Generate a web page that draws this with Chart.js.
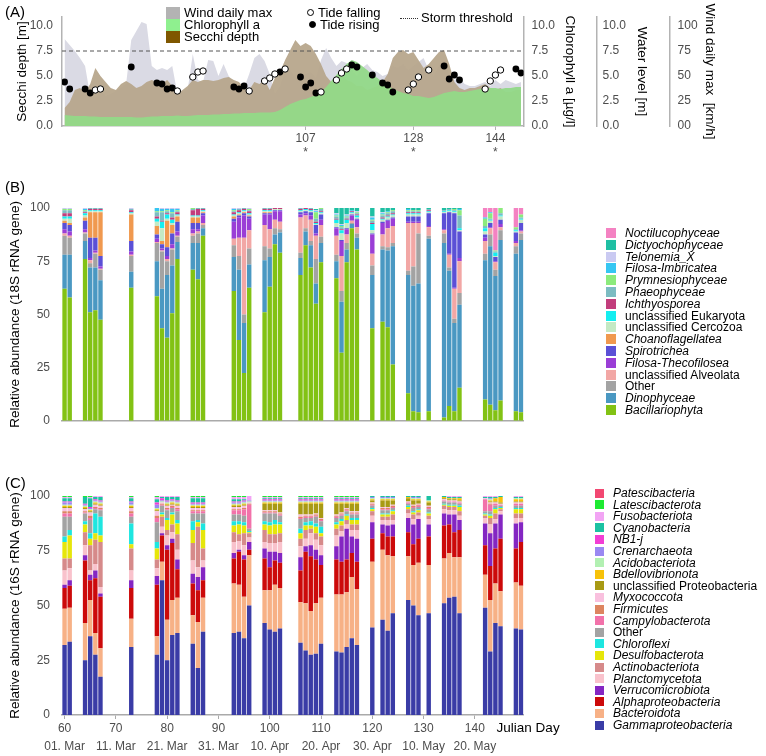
<!DOCTYPE html>
<html>
<head>
<meta charset="utf-8">
<script src="https://cdn.jsdelivr.net/npm/chart.js@4.4.1/dist/chart.umd.min.js"></script>
<style>
body { margin: 0; background: #fff; font-family: "Liberation Sans", Arial, Helvetica, sans-serif; }
#page { position: relative; width: 766px; height: 756px; overflow: hidden; }
canvas { position: absolute; left: 0; }
.panel { position: absolute; left: 5px; font-size: 15px; color: #000; line-height: 18px; }
.lg { position: absolute; font-size: 13px; line-height: 14px; color: #000; white-space: nowrap; }
.lgs { font-size: 12px; }
.sw { position: absolute; }
.dot { position: absolute; width: 5px; height: 5px; border: 1px solid #000; border-radius: 50%; }
</style>
</head>
<body>
<div id="page">
  <canvas id="envChart" width="766" height="165" style="top:0px"></canvas>
  <canvas id="eukChart" width="766" height="260" style="top:180px"></canvas>
  <canvas id="bacChart" width="766" height="286" style="top:470px"></canvas>
  <div class="panel" style="top:3px">(A)</div>
  <div class="panel" style="top:178px">(B)</div>
  <div class="panel" style="top:474px">(C)</div>

  <div class="sw" style="left:166px;top:7px;width:14px;height:12px;background:#b3b3b3"></div>
  <div class="sw" style="left:166px;top:19px;width:14px;height:12px;background:#8ff08f"></div>
  <div class="sw" style="left:166px;top:31px;width:14px;height:12px;background:#7f5700"></div>
  <div class="lg" style="left:184px;top:6px">Wind daily max</div>
  <div class="lg" style="left:184px;top:18px">Chlorophyll a</div>
  <div class="lg" style="left:184px;top:30px">Secchi depth</div>
  <div class="dot" style="left:307px;top:9px;background:#fff"></div>
  <div class="dot" style="left:309px;top:21px;background:#000"></div>
  <div class="lg" style="left:318px;top:6px">Tide falling</div>
  <div class="lg" style="left:320px;top:18px">Tide rising</div>
  <div class="sw" style="left:400px;top:18px;width:18px;height:0;border-top:1px dotted #333"></div>
  <div class="lg" style="left:421px;top:11px">Storm threshold</div>
  <div id="eukLegend"></div>
  <div id="bacLegend"></div>
</div>
<script>
Chart.defaults.font.family = '"Liberation Sans", Arial, Helvetica, sans-serif';
Chart.defaults.color = '#4d4d4d';
Chart.defaults.animation = false;

// ---------- panel A: environment, daily values day 60..149 ----------
const windDaily = [87,81,75,68,60,30,28,35,30,32, 35,38,42,86,95,104,102,60,56,58,
    56,60,32,34,36,72,46,44,66,65, 50,62,50,44,40,38,52,68,72,65,
    52,32,40,54,56,48,50,52,54,48, 66,78,68,60,65,63,56,50,58,62,
    56,54,50,52,60,58,62,56,60,64, 68,56,50,60,66,52,46,48,42,40,
    40,42,44,40,46,42,46,44,42,44];
const secchiDepth = [1.8,2.4,3.6,3.8,3.4,4.2,5.8,5.0,4.4,3.8, 3.6,4.2,4.5,4.2,3.8,4.0,4.4,4.6,4.4,4.2,
    4.6,4.0,3.2,3.6,4.0,4.6,4.4,4.6,4.6,4.5, 4.6,4.8,4.9,4.6,4.4,3.8,3.6,4.4,4.2,4.6,
    3.6,4.8,5.4,6.6,7.6,8.6,8.0,8.3,8.0,7.2, 6.2,5.0,4.4,4.8,5.0,4.6,4.4,4.0,4.0,3.6,
    3.8,4.0,4.4,5.2,6.8,7.4,7.6,7.2,7.4,6.6, 5.8,6.2,6.8,7.4,7.6,6.2,4.4,3.8,3.6,3.8,
    3.8,4.0,4.2,3.8,3.6,3.8,3.4,3.4,3.6,3.6];
const chlorophyll = [1.1,1.05,1.0,1.0,1.0,0.95,0.95,0.9,0.9,0.9, 0.9,0.9,0.9,0.9,0.85,0.85,0.9,0.95,0.95,1.0,
    1.0,1.0,1.05,1.0,1.0,1.05,1.1,1.1,1.1,1.15, 1.15,1.2,1.2,1.25,1.25,1.3,1.3,1.3,1.35,1.35,
    1.35,1.4,1.6,1.9,2.2,2.4,2.6,2.7,2.9,3.1, 3.4,3.9,4.5,5.1,5.7,6.2,6.6,6.4,6.0,5.6,
    5.1,4.8,4.4,4.0,3.7,3.5,3.3,3.2,3.0,3.0, 2.9,2.8,2.9,3.1,3.3,3.4,3.5,3.4,3.4,3.5,
    3.6,3.7,3.8,3.8,3.8,3.7,3.8,3.8,3.9,3.9];
const tideFallingDays = [66,67,82,85,86,87,96,99,100,101,103,110,113,114,115,127,128,129,131,142,143,144,145];
const tideFallingLevel = [3.6,3.7,3.5,4.9,5.4,5.5,3.5,4.5,4.8,5.2,5.7,3.4,4.6,5.3,5.7,3.6,4.2,4.9,5.6,3.7,4.5,5.1,5.6];
const tideRisingDays = [60,61,64,65,73,78,79,80,81,93,94,95,102,106,107,108,109,116,117,120,122,123,124,134,135,136,137,148,149];
const tideRisingLevel = [4.4,3.7,3.7,3.3,5.9,4.3,4.2,3.7,3.8,3.9,3.7,4.0,5.4,4.9,3.9,4.3,3.3,6.1,5.9,5.1,4.3,4.1,3.4,6.0,4.7,5.1,4.6,5.7,5.3];
const stormThreshold = 75;
const markedDays = [107, 128, 144];

// ---------- sampling days for the community bars ----------
const sampleDays = [60,61,64,65,66,67,73,78,79,80,81,82,85,86,87,93,94,95,96,99,100,101,102,
    106,107,108,109,110,113,114,115,116,117,120,122,123,124,127,128,129,131,134,135,136,137,
    142,143,144,145,148,149];
const tickDays = [60,70,80,90,100,110,120,130,140];
const tickDates = ['01. Mar','11. Mar','21. Mar','31. Mar','10. Apr','20. Apr','30. Apr','10. May','20. May'];

// ---------- panel B: 18S rRNA (bottom to top) ----------
const bacillariophyta = [62,58,76,51,52,47.5,62.5,58.5,43.5,39, 50.5,76,71,66.5,87,61,38,22.5,62.5,51,
    63,83,79,68.5,82.5,72,55,74.5,67,32, 74.5,90.5,80.5,43.5,46.5,44,26.5,13,4.5,4, 4.5,1.5,7,4.5,15.5,10,7.5,5,9.5,4.5,4];
const dinophyceae = [16,20,8.5,21,20,18.5,7.5,16.5,18.5,29.5, 22.5,8,12.5,17,3.5,16,33,23.5,11,24.5,
    14,4.5,9.5,8,6.5,10.5,9.5,9,8,24, 6,2,5.5,25,34,36,55.5,55.5,59,60.5, 81,82,63.5,41.5,39,65.5,74.5,63,75.5,74,81];
const otherEuk = [9,8,3.5,2,6.5,5,7.5,8.5,17.5,6.5, 7.5,2.5,3.5,4.5,1.5,5.5,6.5,4,7.5,6.5,
    4,3,1.5,2.5,1.5,2,11.5,3,3,5, 3,0.5,2,4.5,1.5,1.5,1.5,2,9,23.5, 1.5,4.5,1.5,2,5.5,3,5.5,3,4.5,3.5,3];
const unclAlveolata = [1,1,0.5,1.5,0.5,0.5,0.5,0.5,0.5,1, 0.5,0.5,1,1,1,3,8.5,36,8.5,10,
    9,4,3.5,16.5,6,10,11,5.5,9,16.5, 4,1,3,5.5,5.5,9,8,22.5,20.5,5, 4,1.5,6,14,15,6,3,3.5,1.5,1.5,1];
const filosaThecofilosea = [2,2,1.5,1,1,1,1.5,1.5,1,1.5, 2,2,2,1,3.5,8,9.5,10.5,5.5,5,
    7,4,5,1.5,1,2,1,2.5,3.5,7, 2.5,2.5,3.5,9,5.5,3.5,3.5,0.5,0.5,0.5, 0.5,0.5,0.5,0.5,1.5,1.5,0.5,0.5,1.5,1,0.5];
const spirotrichea = [3,3,4,9.5,6,5,5,2,2,4, 5,4.5,3,3,1,1.5,1,1,1,0.5,
    0.5,0.5,0.5,1,1,1.5,4,2.5,0.5,0.5, 0.5,0.5,0.5,0.5,0.5,0.5,0.5,2.5,2.5,2.5, 6,7.5,19.5,35,12.5,1.5,2,2,2,4,3.5];
const choanoflagellatea = [1,1,1.5,12,12,20.5,12.5,4,1.5,12.5, 4,2.5,2.5,2.5,0.5,1,0.5,0.5,0.5,0.5,
    0.5,0,0,0,0,0,0,0,0,0, 0,0,0,0,0,0,0,0,0,0, 0,0,0,0,0,0,0,0,0,0,0];
const unclCercozoa = [1,2,1,0.5,0.5,0.5,0.5,2,6,1, 1,0.5,0.5,0.5,0.5,0.5,0.5,0.5,0.5,0.5,
    0.5,0.5,0.5,0.5,0.5,0.5,0.5,0.5,2,3, 2.5,0.5,0.5,1.5,1,1,1,1,1,1, 0.5,0.5,0.5,0.5,0.5,1.5,1,0.5,1.5,0.5,1.5];
const unclEukaryota = [1,1,1,0.5,0.5,0.5,0.5,1.5,3,2, 1.5,0.5,0.5,0.5,0.5,0.5,0.5,0.5,0.5,0.5,
    0.5,0,0,0.5,0.5,0.5,0.5,0.5,1.5,1.5, 1.5,0.5,1,3,0.5,0.5,0.5,0.5,0.5,0.5, 0.5,0.5,0.5,0.5,1,1.5,0.5,1.5,0.5,0.5,0.5];
const ichthyosporea = [1.5,1.5,0.5,0.5,0.5,0.5,1,1,0.5,0.5, 1,1,2.5,3,0.5,1,1,0.5,1,0.5,
    0.5,0.5,0.5,0.5,0.5,0.5,0.5,0.5,0.5,0.5, 0.5,0.5,0.5,0.5,0.5,0.5,0.5,0.5,0.5,0.5, 0.5,0,0,0,0,0,0,0,0,0,0];
const phaeophyceae = [1.5,1.5,0.5,0.5,0.5,0.5,0.5,2,4,1, 2,0.5,0.5,0.5,0.5,0.5,0.5,0.5,0.5,0.5,
    0.5,0,0,0.5,0,0.5,1.5,1,1,1, 0.5,0,0.5,1,1,1,1,0.5,0.5,0.5, 0.5,0.5,0.5,0.5,6,1,0.5,0.5,1,0.5,0.5];
const prymnesiophyceae = [0.5,0.5,0.5,0,0,0,0,0.5,0.5,0.5, 0.5,0.5,0.5,0,0,0.5,0,0,0.5,0,
    0,0,0,0,0,0,3,0.5,0.5,0.5, 0.5,0,0.5,0.5,0.5,0.5,0.5,0.5,0.5,0.5, 0,0,0,0.5,2.5,3.5,2.5,0.5,2.5,1,1.5];
const filosaImbricatea = [0,0,0.5,0,0,0,0,1.5,1,0.5, 1.5,0.5,0,0,0,0.5,0,0,0,0,
    0,0,0,0,0,0,0.5,0,0.5,0.5, 0.5,0.5,0,1,0.5,0.5,0,0.5,0,0, 0,0,0,0,0.5,0.5,0.5,0,0,0,0];
const telonemia = [0.5,0.5,0.5,0,0,0,0.5,0,0.5,0.5, 0.5,0.5,0,0,0,0.5,0.5,0,0.5,0,
    0,0,0,0,0,0,0.5,0,0.5,0.5, 0.5,0,0.5,0.5,0.5,0,0,0,0,0, 0,0,0,0,0,0,0,0,0,0,0];
const dictyochophyceae = [0,0,0,0,0,0,0,0,0,0, 0,0,0,0,0,0,0,0,0,0,
    0,0,0,0,0,0,0.5,0,2.5,7.5, 3,1,1.5,4,2,1.5,1,1,1,1, 0.5,1,0.5,0.5,0.5,0,0,0,0,0,0];
const noctilucophyceae = [0,0,0,0,0,0,0,0,0,0, 0,0,0,0,0,0,0,0,0,0,
    0,0,0,0,0,0,0,0,0,0, 0,0,0,0,0,0,0,0,0,0, 0,0,0,0,0,4.5,2,20,0,9,3];

const eukNames = ['Bacillariophyta','Dinophyceae','Other','unclassified Alveolata','Filosa-Thecofilosea',
    'Spirotrichea','Choanoflagellatea','unclassified Cercozoa','unclassified Eukaryota','Ichthyosporea',
    'Phaeophyceae','Prymnesiophyceae','Filosa-Imbricatea','Telonemia_X','Dictyochophyceae','Noctilucophyceae'];
const eukValues = [bacillariophyta, dinophyceae, otherEuk, unclAlveolata, filosaThecofilosea, spirotrichea,
    choanoflagellatea, unclCercozoa, unclEukaryota, ichthyosporea, phaeophyceae, prymnesiophyceae,
    filosaImbricatea, telonemia, dictyochophyceae, noctilucophyceae];
const eukColors = ['#82c214','#4a98c2','#a3a3a3','#f2a7a5','#9a3ed6','#5b50d6','#f0994f','#c4e9c4',
    '#14eef0','#c23d7c','#7cbcc2','#8ceb7c','#36c6f2','#cacaf2','#1fbfa3','#f482c2'];

// ---------- panel C: 16S rRNA (bottom to top) ----------
const gammaproteobacteria = [32,33.5,25,36,27.5,17.5,31,27.5,61.5,25, 36.5,37.5,32.5,21.5,38,37.5,38,35,50,42,
    39,38,39.5,33,29.5,27.5,28,32.5,29,28.5, 31,35,32,40,43.5,38.5,46.5,52.5,50,45.5, 46.5,51,53.5,54,46.5,49,29,42,40.5,39.5,39];
const bacteroidota = [16.5,15.5,17,16.5,10,13,13,8.5,8.5,18.5, 16,16,13,21,15.5,22.5,21.5,19,23,15,
    18,21.5,18.5,18.5,21.5,20,23,21,26,26.5, 25,28,25.5,30,32,34.5,26,20,18.5,24, 22,20.5,20.5,18,25.5,15,23.5,18,16,21,20];
const alphaproteobacteria = [9.5,10,28.5,9,25,23.5,14,23.5,12,32, 26,13,14.5,14.5,8,11.5,15,17,2.5,14.5,
    10.5,11,11.5,14.5,23.5,25,20,15,16,15, 15,11,12.5,10.5,7.5,8.5,9,11,9.5,11, 13,15,13,11.5,12.5,13.5,15.5,16,24,15.5,20];
const verrucomicrobiota = [1.5,2.5,2.5,2.5,3.5,1.5,3.5,4,1,2, 2,4.5,4.5,6,6,2.5,1,2,3.5,4.5,
    7,4,4.5,6,2.5,5,4.5,4.5,6,11.5, 14,7.5,10.5,7.5,4,5,5.5,6.5,9,9, 5.5,5.5,4.5,8,4.5,10,15,11.5,11,11.5,9];
const planctomycetota = [6.5,5.5,4.5,2,3,3,4.5,3.5,3,4.5, 3,4.5,6,4.5,3,5,4,4.5,2,3,
    4,4,5,5,3.5,5.5,4.5,4.5,5,2.5, 2,3,4,3,2,2.5,2,2,2.5,1.5, 2.5,2,2,2,2,2.5,4,2,1.5,2.5,2];
const actinobacteriota = [5.5,4.5,6,11.5,11,20.5,10,4,4.5,2.5, 3.5,7,8,18.5,5.5,4.5,3,5.5,2,5.5,
    4,4,4,3.5,4,2,3,4,3,2.5, 2,2.5,2.5,2,1.5,1.5,2.5,2,2,1.5, 1.5,1.5,1.5,1.5,2,1,3,2.5,1,2,2];
const desulfobacterota = [7.5,10.5,3.5,3,3,3,2,5,1,4.5, 4.5,5,6,2,8.5,3,4.5,3.5,0.5,2.5,
    4,4.5,4,2.5,2,1.5,3,1.5,2,2, 2,2,2,1,1,1,1.5,1,1,1, 1,0.5,0.5,0.5,2,0.5,1,2,0.5,2,2];
const chloroflexi = [2.5,2.5,1.5,2.5,9,8.5,9.5,3,1,1, 1,1.5,4,1,3,2,1.5,1.5,0.5,1.5,
    1.5,2,1,2,1.5,2,1.5,3,1,1, 0.5,1,1,0.5,0.5,0.5,0.5,0.5,0.5,0.5, 0.5,0.5,0.5,0.5,0.5,0.5,0.5,0.5,0.5,0.5,0.5];
const otherBac = [9,6,3.5,6,2,3,3,9,3,3.5, 2,4,3.5,3,4.5,3,3,3,1,3.5,
    4,3,3,4.5,2,1.5,3,2.5,2,1.5, 1.5,1.5,1.5,1,1.5,1.5,1,1,1.5,1, 1.5,1,1,1,1,1,1.5,1,0.5,1,1];
const campylobacterota = [1.5,1.5,0.5,1,0.5,0.5,1.5,2,0.5,0.5, 0.5,1,1,1,1,2,2,3,11,0.5,
    0.5,0.5,0.5,0.5,0.5,0.5,0.5,0.5,0.5,0.5, 0.5,0.5,0.5,0.5,0.5,0.5,0.5,0.5,0.5,0.5, 0.5,0.5,0.5,0.5,0.5,5.5,3,1,0.5,1,1];
const firmicutes = [1,1,0.5,1,0.5,0.5,1,1,0.5,0.5, 0.5,0.5,0.5,0.5,0.5,0.5,0.5,0.5,0.5,0.5,
    0.5,0.5,0.5,0.5,0.5,0.5,0.5,0.5,0.5,0.5, 0.5,0.5,0.5,0.5,0.5,0.5,0.5,0,0.5,0.5, 0.5,0,0,0,0,0,0.5,0,0,0,0];
const myxococcota = [1.5,1.5,1,1.5,1,1,1.5,2,0.5,1, 0.5,1,1,1,1,1,1,1,0.5,0.5,
    0.5,0.5,0.5,1,0.5,0.5,0.5,0.5,0.5,0.5, 0.5,0.5,0.5,0.5,0.5,0.5,0.5,0.5,0.5,0.5, 0.5,0.5,0.5,0.5,0.5,0.5,0.5,0.5,0.5,0.5,0.5];
const unclProteobacteria = [0.5,0.5,0.5,0.5,0.5,0.5,0.5,0.5,0,0.5, 0.5,0.5,0.5,0.5,0.5,0.5,0.5,0.5,0,3,
    3,3,4,5,5,5,4.5,6.5,5,4, 2,3.5,3.5,1,3,3,2,1.5,2,1.5, 1.5,0.5,0.5,0.5,0.5,0,0.5,0.5,0.5,0.5,0.5];
const bdellovibrionota = [0.5,0.5,0.5,0.5,0.5,0.5,0.5,0.5,0,0.5, 0.5,0.5,0.5,0.5,0.5,0.5,0.5,0.5,0,0.5,
    0.5,0.5,0.5,0.5,0.5,0.5,0.5,0.5,0.5,0.5, 0.5,0.5,0.5,0.5,0.5,0.5,0.5,0.5,0.5,0.5, 0.5,0.5,0.5,0.5,1,0,0.5,1.5,2.5,1,1];
const acidobacteriota = [0.5,0.5,0.5,0.5,0.5,0.5,0.5,0.5,0.5,0.5, 0.5,0.5,0.5,0.5,0.5,0.5,0.5,0.5,0.5,0.5,
    0.5,0.5,0.5,0.5,0.5,0.5,0.5,0.5,0.5,0.5, 0.5,0.5,0.5,0.5,0.5,0.5,0.5,0,0.5,0.5, 0.5,0,0,0,0,0,0.5,0,0,0.5,0.5];
const crenarchaeota = [1,1,0.5,0.5,0.5,0.5,1,1.5,0.5,0.5, 0.5,0.5,0.5,0.5,0.5,0.5,0.5,0.5,0.5,0.5,
    0.5,0.5,0.5,0.5,0.5,0.5,0.5,0.5,0.5,0.5, 0.5,0.5,0.5,0.5,0.5,0.5,0.5,0,0.5,0.5, 0,0,0,0,0,0,0.5,0,0,0,0];
const nb1j = [0.5,0.5,0.5,0.5,0.5,0.5,0.5,1,1,0.5, 0.5,0.5,0.5,0.5,0.5,0.5,0.5,0.5,0,0.5,
    0.5,0.5,0.5,0.5,0.5,0.5,0.5,0.5,0.5,0.5, 0.5,0.5,0.5,0,0,0,0,0,0,0, 0,0,0,0,0,0,0,0,0,0,0];
const cyanobacteria = [1.5,1.5,3,4,1,1.5,1.5,1.5,0.5,1.5, 1,1.5,2,2,2,1,1,0.5,0,0.5,
    0.5,0.5,0.5,0.5,0.5,0.5,0.5,0.5,0.5,0.5, 0.5,0.5,0.5,0.5,0.5,0.5,0.5,0.5,0.5,0.5, 2,0.5,0.5,0.5,0.5,0.5,0.5,0.5,0.5,0.5,0.5];
const fusobacteriota = [0.5,0.5,0,0.5,0.5,0.5,0.5,1,0.5,0.5, 0.5,0.5,0.5,0.5,0.5,1,1,1,2,0.5,
    0.5,0.5,0.5,0.5,0.5,0.5,0.5,0.5,0.5,0.5, 0.5,0.5,0.5,0,0,0,0,0,0,0, 0,0,0.5,0.5,0.5,0.5,0.5,0.5,0,0.5,0.5];
const latescibacterota = [0.5,0.5,0.5,0.5,0,0,0.5,0.5,0,0, 0,0,0.5,0.5,0.5,0.5,0.5,0.5,0,0.5,
    0.5,0.5,0.5,0.5,0.5,0.5,0.5,0.5,0.5,0.5, 0.5,0.5,0.5,0,0,0,0,0,0,0, 0,0,0,0,0,0,0,0,0,0,0];
const patescibacteria = [0,0,0,0,0,0,0,0.5,0,0, 0,0,0,0,0,0,0,0,0,0,
    0,0,0,0,0,0,0,0,0,0, 0,0,0,0,0,0,0,0,0,0, 0,0,0,0,0,0,0,0,0,0,0];

const bacNames = ['Gammaproteobacteria','Bacteroidota','Alphaproteobacteria','Verrucomicrobiota','Planctomycetota',
    'Actinobacteriota','Desulfobacterota','Chloroflexi','Other','Campylobacterota','Firmicutes','Myxococcota',
    'unclassified Proteobacteria','Bdellovibrionota','Acidobacteriota','Crenarchaeota','NB1-j','Cyanobacteria',
    'Fusobacteriota','Latescibacterota','Patescibacteria'];
const bacValues = [gammaproteobacteria, bacteroidota, alphaproteobacteria, verrucomicrobiota, planctomycetota,
    actinobacteriota, desulfobacterota, chloroflexi, otherBac, campylobacterota, firmicutes, myxococcota,
    unclProteobacteria, bdellovibrionota, acidobacteriota, crenarchaeota, nb1j, cyanobacteria,
    fusobacteriota, latescibacterota, patescibacteria];
const bacColors = ['#3a3ca6','#f7b186','#cc0a0a','#8426c2','#f9c2cc','#d68a8a','#e6e60a','#1ee6e0','#a3a3a3',
    '#f272aa','#dd8560','#f9c0de','#a89a14','#f7c20a','#b2f0b2','#9a88f2','#f23ed4','#1cc2a2','#f2a4f4',
    '#1eea32','#f24872'];

const notItalic = ['Other','unclassified Alveolata','unclassified Cercozoa','unclassified Eukaryota','unclassified Proteobacteria'];

const dayLabels = [];
for (let d = 60; d <= 149; d++) dayLabels.push(String(d));

function toPoints(values) {
    return sampleDays.map((d, i) => ({ x: String(d), y: values[i] }));
}
function dailyPoints(values) {
    return values.map((v, i) => ({ x: 60 + i, y: v }));
}

// ---------- panel A chart ----------
const titleFont = { size: 13.5 };
function rightAxis(title, max, step, fmt, labelPad, titlePad) {
    return {
        position: 'right', min: 0, max: max,
        ticks: { stepSize: step, includeBounds: false, padding: labelPad, font: { size: 12 }, callback: fmt },
        grid: { display: false, drawTicks: false },
        border: { display: true, color: '#b3b3b3', width: 1.5 },
        title: { display: true, text: title, color: '#000', font: titleFont, padding: { top: titlePad, bottom: 0 } },
        afterFit: s => { s.width = 73; }
    };
}

new Chart(document.getElementById('envChart'), {
    type: 'line',
    data: {
        datasets: [
            { type: 'scatter', label: 'Tide falling', yAxisID: 'yWater', order: 0,
              data: tideFallingDays.map((d, i) => ({ x: d, y: tideFallingLevel[i] })),
              pointRadius: 3.2, pointBackgroundColor: '#ffffff', pointBorderColor: '#000000', pointBorderWidth: 1 },
            { type: 'scatter', label: 'Tide rising', yAxisID: 'yWater', order: 0,
              data: tideRisingDays.map((d, i) => ({ x: d, y: tideRisingLevel[i] })),
              pointRadius: 3.4, pointBackgroundColor: '#000000', pointBorderColor: '#000000', pointBorderWidth: 0 },
            { label: 'Storm threshold', yAxisID: 'yWind', order: 1,
              data: [{ x: 59.5, y: stormThreshold }, { x: 149.5, y: stormThreshold }],
              borderColor: '#555555', borderWidth: 1, borderDash: [4, 3], pointRadius: 0, fill: false },
            { label: 'Chlorophyll a', yAxisID: 'yChl', order: 2, data: dailyPoints(chlorophyll),
              borderColor: 'rgba(0,0,0,0)', borderWidth: 0, pointRadius: 0, tension: 0,
              fill: 'origin', backgroundColor: 'rgba(146,217,136,0.95)' },
            { label: 'Secchi depth', yAxisID: 'ySecchi', order: 3, data: dailyPoints(secchiDepth),
              borderColor: 'rgba(0,0,0,0)', borderWidth: 0, pointRadius: 0, tension: 0,
              fill: 'origin', backgroundColor: 'rgba(183,167,140,0.95)' },
            { label: 'Wind daily max', yAxisID: 'yWind', order: 4, data: dailyPoints(windDaily),
              borderColor: 'rgba(0,0,0,0)', borderWidth: 0, pointRadius: 0, tension: 0,
              fill: 'origin', backgroundColor: 'rgba(218,218,228,1)' }
        ]
    },
    options: {
        responsive: false,
        layout: { padding: { top: 17, right: 23.4, left: 0, bottom: 0 } },
        plugins: { legend: { display: false }, tooltip: { enabled: false } },
        scales: {
            x: {
                type: 'linear', min: 59.5, max: 149.5,
                afterBuildTicks: s => { s.ticks = markedDays.map(v => ({ value: v })); },
                ticks: { autoSkip: false, maxRotation: 0, padding: 1, font: { size: 12 }, callback: v => [String(v), '*'] },
                grid: { drawOnChartArea: false, tickLength: 4, color: '#b3b3b3' },
                border: { color: '#b3b3b3', width: 1.5 },
                afterFit: s => { s.height = 39; }
            },
            ySecchi: {
                position: 'left', min: 0, max: 10.9,
                ticks: { stepSize: 2.5, includeBounds: false, padding: 9, font: { size: 12 }, callback: v => v.toFixed(1) },
                grid: { display: false, drawTicks: false },
                border: { color: '#b3b3b3', width: 1.5 },
                title: { display: true, text: 'Secchi depth [m]', color: '#000', font: titleFont, padding: { top: 14, bottom: 0 } },
                afterFit: s => { s.width = 62; }
            },
            yChl: rightAxis('Chlorophyll a [µg/l]', 10.9, 2.5, v => v.toFixed(1), 8, 19),
            yWater: rightAxis('Water level [m]', 10.9, 2.5, v => v.toFixed(1), 6, 20),
            yWind: rightAxis('Wind daily max  [km/h]', 109, 25, v => (v === 0 ? '00' : String(v)), 8, 25)
        }
    }
});

// ---------- panels B and C ----------
function stackedOptions(yTitle, xAxis) {
    return {
        responsive: false,
        layout: { padding: { top: 28, right: 242.4, left: 0, bottom: 0 } },
        plugins: { legend: { display: false }, tooltip: { enabled: false } },
        scales: {
            x: xAxis,
            y: {
                stacked: true, min: 0, max: 100,
                ticks: { stepSize: 25, padding: 12, font: { size: 12 } },
                grid: { display: false, drawTicks: false },
                border: { display: false },
                title: { display: true, text: yTitle, color: '#000', font: titleFont, padding: { top: 7, bottom: 0 } },
                afterFit: s => { s.width = 62; }
            }
        }
    };
}

new Chart(document.getElementById('eukChart'), {
    type: 'bar',
    data: {
        labels: dayLabels,
        datasets: eukNames.map((name, i) => ({
            label: name, data: toPoints(eukValues[i]), backgroundColor: eukColors[i],
            barPercentage: 0.86, categoryPercentage: 1, borderWidth: 0
        }))
    },
    options: stackedOptions('Relative abundance (18S rRNA gene)', {
        stacked: true,
        ticks: { display: false },
        grid: { display: false, drawTicks: false },
        border: { display: true, color: '#aaaaaa', width: 1.5 },
        afterFit: s => { s.height = 12; }
    })
});

const julianLabel = {
    id: 'julianLabel',
    afterDraw(chart) {
        const ctx = chart.ctx;
        ctx.save();
        ctx.font = '13.5px "Liberation Sans", Arial, sans-serif';
        ctx.fillStyle = '#000';
        ctx.textBaseline = 'middle';
        ctx.fillText('Julian Day', chart.chartArea.right - 27, chart.chartArea.bottom + 13);
        ctx.restore();
    }
};

const bacOptions = stackedOptions('Relative abundance (16S rRNA gene)', {
    stacked: true,
    afterBuildTicks: s => { s.ticks = s.ticks.filter(t => tickDays.includes(60 + t.value)); },
    ticks: {
        autoSkip: false, maxRotation: 0, padding: 0, font: { size: 12, lineHeight: 1.55 },
        callback: function (value) {
            const day = Number(this.getLabelForValue(value));
            return [String(day), tickDates[tickDays.indexOf(day)]];
        }
    },
    grid: { drawOnChartArea: false, offset: false, tickLength: 4, color: '#aaaaaa' },
    border: { display: true, color: '#aaaaaa', width: 1.5 },
    afterFit: s => { s.height = 41; }
});
bacOptions.layout.padding.top = 26;

new Chart(document.getElementById('bacChart'), {
    type: 'bar',
    data: {
        labels: dayLabels,
        datasets: bacNames.map((name, i) => ({
            label: name, data: toPoints(bacValues[i]), backgroundColor: bacColors[i],
            barPercentage: 0.86, categoryPercentage: 1, borderWidth: 0
        }))
    },
    options: bacOptions,
    plugins: [julianLabel]
});

// ---------- legends (top of list = top of stack) ----------
function buildLegend(id, names, colors, firstCenter, step, swLeft, swSize, textLeft) {
    const box = document.getElementById(id);
    const order = names.map((n, i) => i).reverse();
    order.forEach((idx, k) => {
        const cy = firstCenter + k * step;
        const sw = document.createElement('div');
        sw.className = 'sw';
        sw.style.cssText = 'left:' + swLeft + 'px;top:' + (cy - swSize / 2) + 'px;width:' + swSize + 'px;height:' + swSize + 'px;background:' + colors[idx];
        box.appendChild(sw);
        const tx = document.createElement('div');
        tx.className = 'lg lgs';
        tx.style.left = textLeft + 'px';
        tx.style.top = (cy - 7) + 'px';
        tx.style.fontStyle = notItalic.includes(names[idx]) ? 'normal' : 'italic';
        tx.textContent = names[idx];
        box.appendChild(tx);
    });
}
buildLegend('eukLegend', eukNames, eukColors, 233, 11.8, 606, 10, 625);
buildLegend('bacLegend', bacNames, bacColors, 493, 11.6, 595, 9, 613);
</script>
</body>
</html>
